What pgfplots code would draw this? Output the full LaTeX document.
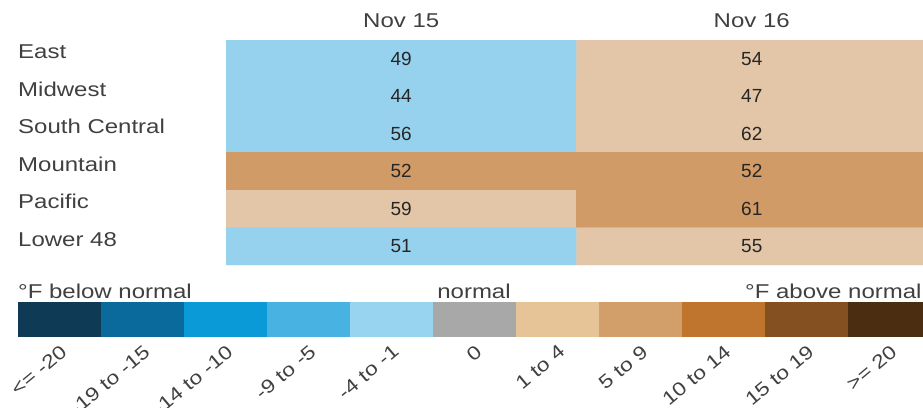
\documentclass[border=0pt]{standalone}
\usepackage{pgfplots}
\pgfplotsset{compat=1.18}
\usepackage{fontspec}
\setmainfont{Liberation Sans}[FakeStretch=1.2]
\newfontfamily\numfont{Liberation Sans}
\newcommand\labfont{\fontsize{20bp}{24bp}\selectfont}
\newcommand\tickfont{\fontsize{19bp}{23bp}\selectfont}
\newcommand\valfont{\numfont\fontsize{19bp}{23bp}\selectfont}
\definecolor{labgray}{HTML}{404040}
\definecolor{valgray}{HTML}{262626}
\definecolor{L0}{HTML}{0F3A55}
\definecolor{L1}{HTML}{0A6A9C}
\definecolor{L2}{HTML}{0A9AD8}
\definecolor{L3}{HTML}{48B3E2}
\definecolor{L4}{HTML}{98D3EF}
\definecolor{L5}{HTML}{A8A8A8}
\definecolor{L6}{HTML}{E6C498}
\definecolor{L7}{HTML}{D29E6A}
\definecolor{L8}{HTML}{C0752F}
\definecolor{L9}{HTML}{855021}
\definecolor{L10}{HTML}{4B2E12}
\pgfplotstableread{
x y c t
0 5 4 49
1 5 6 54
0 4 4 44
1 4 6 47
0 3 4 56
1 3 6 62
0 2 7 52
1 2 7 52
0 1 6 59
1 1 7 61
0 0 4 51
1 0 6 55
}\heattable
\begin{document}
\begin{tikzpicture}
\path[use as bounding box] (0,0) rectangle (923bp,-408bp);
\clip (0,0) rectangle (923bp,-408bp);
\begin{axis}[
  at={(226bp,-40bp)}, anchor=north west,
  width=701bp, height=225bp, scale only axis,
  xmin=-0.5, xmax=1.5, ymin=-0.5, ymax=5.5,
  axis line style={draw=none}, tick style={draw=none}, major tick length=0pt,
  xtick={0,1}, xticklabels={Nov 15, Nov 16}, xticklabel pos=right,
  xticklabel style={anchor=base, yshift=13bp, inner sep=0pt, text=labgray, font=\labfont},
  ytick={0,...,5}, yticklabels={Lower 48, Pacific, Mountain, South Central, Midwest, East},
  yticklabel style={anchor=west, xshift=-208bp, yshift=7bp, inner sep=0pt, text=labgray, font=\labfont},
  colormap={heat}{rgb255=(15,58,85) rgb255=(10,106,156) rgb255=(10,154,216) rgb255=(72,179,226)
    rgb255=(150,210,238) rgb255=(168,168,168) rgb255=(227,197,167) rgb255=(209,155,103)
    rgb255=(192,117,47) rgb255=(133,80,33) rgb255=(75,46,18)},
  colormap access=direct,
]
\addplot[matrix plot*, draw=none, mesh/cols=2, point meta=explicit] table[x=x, y=y, meta=c] {\heattable};
\addplot[only marks, mark=none, point meta=explicit symbolic, nodes near coords,
  every node near coord/.append style={anchor=center, font=\valfont, text=valgray}]
  table[x=x, y=y, meta=t] {\heattable};
\end{axis}
\begin{axis}[
  at={(18bp,-302bp)}, anchor=north west,
  width=913bp, height=35bp, scale only axis,
  xmin=-0.5, xmax=10.5, ymin=0, ymax=1,
  axis line style={draw=none}, tick style={draw=none}, major tick length=0pt,
  ytick=\empty,
  xtick={0,...,10},
  xticklabels={<= -20, -19 to -15, -14 to -10, -9 to -5, -4 to -1, 0, 1 to 4, 5 to 9, 10 to 14, 15 to 19, >= 20},
  xticklabel style={rotate=40, anchor=north east, inner sep=0pt, xshift=-4bp, yshift=-5bp, text=labgray, font=\tickfont},
  legbar/.style={ybar, bar width=1, bar shift=0pt, draw=none, fill=#1},
]
\addplot[legbar=L0] coordinates {(0,1)};
\addplot[legbar=L1] coordinates {(1,1)};
\addplot[legbar=L2] coordinates {(2,1)};
\addplot[legbar=L3] coordinates {(3,1)};
\addplot[legbar=L4] coordinates {(4,1)};
\addplot[legbar=L5] coordinates {(5,1)};
\addplot[legbar=L6] coordinates {(6,1)};
\addplot[legbar=L7] coordinates {(7,1)};
\addplot[legbar=L8] coordinates {(8,1)};
\addplot[legbar=L9] coordinates {(9,1)};
\addplot[legbar=L10] coordinates {(10,1)};
\end{axis}
\node[anchor=base west, inner sep=0pt, font=\labfont, text=labgray] at (18bp,-298bp) {°F below normal};
\node[anchor=base, inner sep=0pt, font=\labfont, text=labgray] at (474bp,-298bp) {normal};
\node[anchor=base west, inner sep=0pt, font=\labfont, text=labgray] at (745bp,-298bp) {°F above normal};
\end{tikzpicture}
\end{document}
